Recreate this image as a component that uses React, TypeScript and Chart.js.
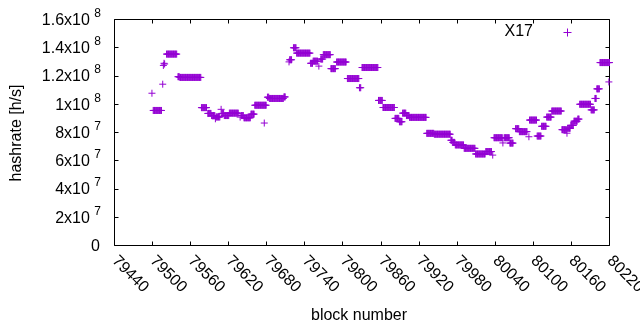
import React, { useEffect, useRef } from "react";
import { Chart, registerables } from "chart.js";
Chart.register(...registerables);

// hashrate runs: [first block, last block, hashrate in 1e6 h/s]
const runStart = [79499, 79501, 79516, 79517, 79518, 79519, 79522, 79540, 79543, 79577, 79587, 79593, 79599, 79600, 79608, 79609, 79613, 79621, 79638, 79640, 79644, 79655, 79661, 79676, 79681, 79684, 79707, 79715, 79716, 79722, 79727, 79749, 79753, 79762, 79765, 79769, 79781, 79790, 79807, 79826, 79830, 79856, 79863, 79882, 79889, 79894, 79900, 79905, 79932, 79944, 79970, 79973, 79977, 79991, 80009, 80025, 80036, 80038, 80052, 80054, 80063, 80072, 80078, 80093, 80094, 80106, 80113, 80121, 80129, 80145, 80153, 80154, 80159, 80164, 80170, 80173, 80191, 80197, 80200, 80205, 80219];
const runEnd = [79499, 79514, 79516, 79517, 79518, 79519, 79538, 79542, 79576, 79585, 79592, 79598, 79599, 79606, 79608, 79612, 79620, 79635, 79638, 79643, 79654, 79660, 79679, 79676, 79683, 79706, 79709, 79715, 79719, 79726, 79748, 79752, 79760, 79762, 79768, 79780, 79788, 79805, 79825, 79828, 79855, 79862, 79881, 79888, 79893, 79899, 79904, 79931, 79943, 79969, 79972, 79976, 79990, 80008, 80024, 80034, 80036, 80051, 80052, 80062, 80068, 80077, 80090, 80093, 80105, 80112, 80120, 80128, 80144, 80152, 80153, 80158, 80163, 80169, 80172, 80190, 80196, 80199, 80204, 80220, 80219];
const runValue = [107.8, 95.6, 114.2, 127.5, 129, 128.5, 135.5, 119.5, 119, 97.6, 93.5, 92, 89.7, 91, 96.4, 93.5, 92, 93.7, 90.9, 92, 90.4, 93, 99.3, 86.7, 105, 104.1, 105.2, 130, 131.5, 140, 136.2, 129, 130.5, 127, 132, 135.1, 125.2, 129.9, 118.2, 111.7, 126, 102.7, 97.7, 90, 87.6, 93.7, 92, 90.7, 79.4, 78.8, 74.5, 73, 71.2, 68.8, 64.8, 66.5, 64, 76.3, 72.6, 76.3, 72.5, 82.7, 80.6, 77, 88.8, 77.5, 84.4, 90.9, 95.2, 82, 79.5, 83, 85, 88, 89.5, 100, 96, 104.1, 110.9, 129.5, 115.8];

const xTicks = [79440, 79500, 79560, 79620, 79680, 79740, 79800, 79860, 79920, 79980, 80040, 80100, 80160, 80220];
const yTicks = [0, 20, 40, 60, 80, 100, 120, 140, 160];
const yTickBase = ["0", "2x10", "4x10", "6x10", "8x10", "1x10", "1.2x10", "1.4x10", "1.6x10"];
const yTickExp = ["", "7", "7", "7", "7", "8", "8", "8", "8"];
const seriesName = "X17";
const COLOR = "#9400d3";
const FONT = '"Liberation Sans", Arial, sans-serif';

export default function App() {
  const ref = useRef<HTMLCanvasElement>(null);
  useEffect(() => {
    const pts: { x: number; y: number }[] = [];
    for (let i = 0; i < runStart.length; i++) {
      for (let b = runStart[i]; b <= runEnd[i]; b++) pts.push({ x: b, y: runValue[i] });
    }
    const half = (v: number) => Math.floor(v) + 0.5;
    const deco = {
      id: "deco",
      beforeDatasetsDraw(chart: any) {
        const { ctx, chartArea: a, scales } = chart;
        ctx.save();
        ctx.strokeStyle = "#000";
        ctx.lineWidth = 1;
        ctx.beginPath();
        ctx.rect(a.left, a.top, a.right - a.left, a.bottom - a.top);
        const TL = 4;
        for (const t of xTicks) {
          const px = half(scales.x.getPixelForValue(t));
          ctx.moveTo(px, a.bottom); ctx.lineTo(px, a.bottom - TL);
          ctx.moveTo(px, a.top); ctx.lineTo(px, a.top + TL);
        }
        for (const t of yTicks) {
          const py = half(scales.y.getPixelForValue(t));
          ctx.moveTo(a.left, py); ctx.lineTo(a.left + TL, py);
          ctx.moveTo(a.right, py); ctx.lineTo(a.right - TL, py);
        }
        ctx.stroke();
        ctx.restore();
      },
      afterDraw(chart: any) {
        const { ctx, chartArea: a, scales } = chart;
        ctx.save();
        ctx.fillStyle = "#000";
        // y tick labels
        const R = 101;
        yTicks.forEach((t, i) => {
          const py = scales.y.getPixelForValue(t);
          ctx.textBaseline = "middle";
          if (yTickExp[i]) {
            ctx.font = `12px ${FONT}`;
            const ew = ctx.measureText(yTickExp[i]).width;
            ctx.textAlign = "left";
            ctx.fillText(yTickExp[i], R - ew, py - 6);
            ctx.font = `16px ${FONT}`;
            ctx.textAlign = "right";
            ctx.fillText(yTickBase[i], R - ew - 4.5, py + 1);
          } else {
            ctx.font = `16px ${FONT}`;
            ctx.textAlign = "right";
            ctx.fillText(yTickBase[i], R - 1, py + 1);
          }
        });
        // x tick labels rotated
        ctx.font = `16px ${FONT}`;
        for (const t of xTicks) {
          const px = scales.x.getPixelForValue(t);
          ctx.save();
          ctx.translate(px, a.bottom + 13);
          ctx.rotate(Math.PI / 4);
          ctx.textAlign = "left";
          ctx.textBaseline = "middle";
          ctx.fillText(String(t), 0, 0);
          ctx.restore();
        }
        // axis titles
        ctx.textAlign = "center";
        ctx.textBaseline = "middle";
        ctx.fillText("block number", 359, 316);
        ctx.save();
        ctx.translate(17, 133);
        ctx.rotate(-Math.PI / 2);
        ctx.fillText("hashrate [h/s]", 0, 0);
        ctx.restore();
        // legend
        ctx.textAlign = "right";
        ctx.fillText(seriesName, 533, 32);
        ctx.strokeStyle = COLOR;
        ctx.lineWidth = 1;
        ctx.beginPath();
        ctx.moveTo(567.5, 28.5); ctx.lineTo(567.5, 36.5);
        ctx.moveTo(563.5, 32.5); ctx.lineTo(571.5, 32.5);
        ctx.stroke();
        ctx.restore();
      },
    };
    const chart = new Chart(ref.current!, {
      type: "scatter",
      data: {
        datasets: [
          {
            label: seriesName,
            data: pts,
            pointStyle: "cross",
            pointRadius: 3.5,
            pointHoverRadius: 3.5,
            borderColor: COLOR,
            backgroundColor: COLOR,
            borderWidth: 1,
            clip: false as any,
          },
        ],
      },
      options: {
        responsive: false,
        animation: false,
        events: [],
        layout: { padding: { left: 114.5, right: 30.5, top: 19.5, bottom: 84.5 } },
        plugins: { legend: { display: false }, tooltip: { enabled: false } },
        scales: {
          x: { type: "linear", min: 79440, max: 80220, display: false },
          y: { type: "linear", min: 0, max: 160, display: false },
        },
      },
      plugins: [deco],
    });
    return () => chart.destroy();
  }, []);
  return (
    <div style={{ position: "fixed", left: 0, top: 0, width: 640, height: 330, background: "#fff" }}>
      <canvas ref={ref} width={640} height={330} style={{ display: "block", width: 640, height: 330 }} />
    </div>
  );
}
